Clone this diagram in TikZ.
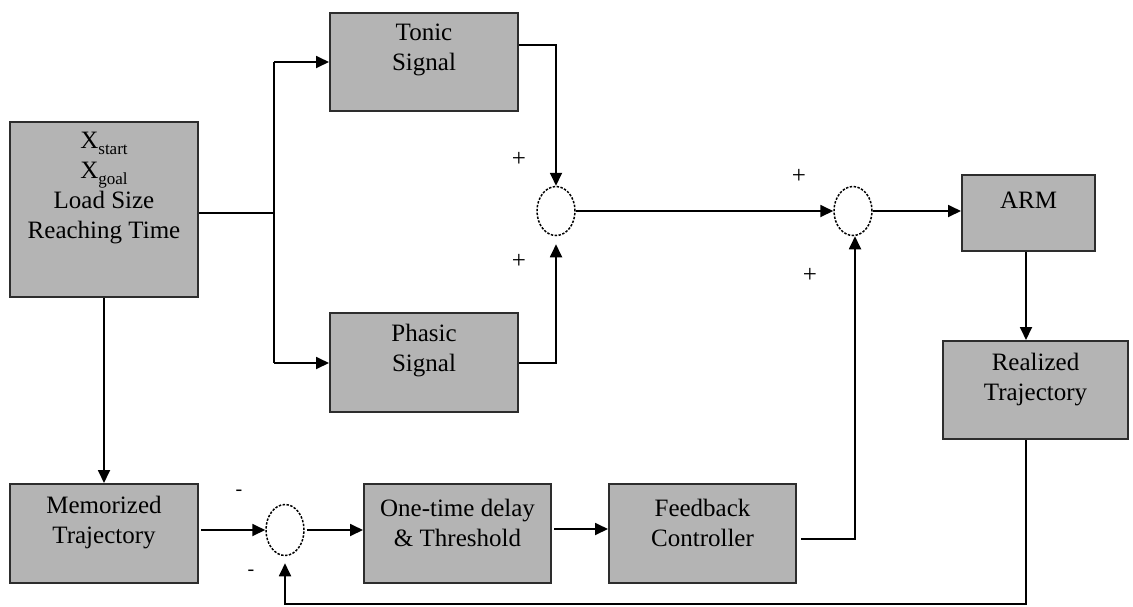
\documentclass[tikz,border=0pt]{standalone}
\usepackage{fontspec}
\setmainfont{Liberation Serif}
\usetikzlibrary{arrows.meta,shapes.geometric}
\definecolor{boxfill}{RGB}{180,180,180}
\definecolor{boxline}{RGB}{45,45,45}
\tikzset{
  blockbox/.style={draw=boxline, line width=2pt, fill=boxfill, inner sep=0pt},
  blocktext/.style={align=center, inner sep=0pt, font=\fontsize{25}{30}\selectfont},
  sumnode/.style={ellipse, draw=black, line width=1.5pt, dash pattern=on 2.4pt off 1.5pt,
                  fill=white, minimum width=38pt, minimum height=49pt, inner sep=0pt},
  wire/.style={draw=black, line width=1.8pt},
  flow/.style={wire, -{Triangle[length=13pt,width=12pt]}},
  signtext/.style={inner sep=0pt, font=\fontsize{25}{25}\selectfont},
}
\newcommand{\subtxt}[1]{\raisebox{-6pt}{\fontsize{17}{17}\selectfont #1}}
\begin{document}
\begin{tikzpicture}[x=1pt,y=-1pt]
  \useasboundingbox (0,0) rectangle (1133,606);

  % blocks
  \node[blockbox, minimum width=188pt, minimum height=175pt] (input) at (104,209.5) {};
  \node[blocktext] (inputtxt) at (104,188) {X\subtxt{start}\\X\subtxt{goal}\\Load Size\\Reaching Time};

  \node[blockbox, minimum width=188pt, minimum height=98pt] (tonic) at (424,62) {};
  \node[blocktext] (tonictxt) at (424,50) {Tonic\\Signal};

  \node[blockbox, minimum width=188pt, minimum height=99pt] (phasic) at (424,362.5) {};
  \node[blocktext] (phasictxt) at (424,351) {Phasic\\Signal};

  \node[blockbox, minimum width=133pt, minimum height=76pt] (arm) at (1028.5,213) {};
  \node[blocktext] (armtxt) at (1028.5,200) {ARM};

  \node[blockbox, minimum width=185pt, minimum height=98pt] (realized) at (1035.5,390) {};
  \node[blocktext] (realizedtxt) at (1035.5,380) {Realized\\Trajectory};

  \node[blockbox, minimum width=188pt, minimum height=99pt] (memorized) at (104,533.5) {};
  \node[blocktext] (memorizedtxt) at (104,523) {Memorized\\Trajectory};

  \node[blockbox, minimum width=187pt, minimum height=99pt] (onetime) at (457.5,533.5) {};
  \node[blocktext] (onetimetxt) at (457.5,522.5) {One-time delay\\\& Threshold};

  \node[blockbox, minimum width=187pt, minimum height=99pt] (feedback) at (702.5,533.5) {};
  \node[blocktext] (feedbacktxt) at (702.5,523) {Feedback\\Controller};

  % summing junctions
  \node[sumnode] (sum1) at (556,211) {};
  \node[sumnode] (sum2) at (853,211) {};
  \node[sumnode, minimum height=51pt] (sum3) at (285,530) {};

  % signs
  \node[signtext] (p1) at (519,159) {+};
  \node[signtext] (p2) at (519,261) {+};
  \node[signtext] (p3) at (799,176) {+};
  \node[signtext] (p4) at (810,275) {+};
  \node[signtext, font=\fontsize{20}{20}\selectfont] (m1) at (239,493) {-};
  \node[signtext, font=\fontsize{20}{20}\selectfont] (m2) at (251,573) {-};

  % routing points
  \coordinate (split) at (274,213);
  \coordinate (splittop) at (274,62);
  \coordinate (splitbot) at (274,363);
  \coordinate (tonicout) at (556,45);
  \coordinate (fbkbottom) at (1026,604);
  \coordinate (fbctrl) at (855,539);
  \coordinate (ctrlin) at (580,529);

  % upper feed-forward paths
  \draw[wire] (input.east |- split) -- (split);
  \draw[wire] (splittop) -- (splitbot);
  \draw[flow] (splittop) -- (tonic.west |- splittop);
  \draw[flow] (splitbot) -- (phasic.west |- splitbot);
  \draw[flow] (tonic.east |- tonicout) -- (tonicout) -- (sum1.north);
  \draw[flow, shorten >=8pt] (phasic.east |- splitbot) -| (sum1.south);
  \draw[flow] (sum1.east) -- (sum2.west);
  \draw[flow] (sum2.east) -- (sum2.east -| arm.west);
  \draw[flow] (arm.south -| fbkbottom) -- (realized.north -| fbkbottom);

  % lower feedback loop
  \draw[flow] (input.south) -- (memorized.north);
  \draw[flow] ([xshift=2pt]memorized.east |- sum3) -- (sum3.west);
  \draw[flow] ([xshift=2pt]sum3.east) -- (onetime.west |- sum3);
  \draw[flow] ([xshift=2pt]onetime.east |- ctrlin) -- (feedback.west |- ctrlin);
  \draw[flow] ([xshift=4pt]feedback.east |- fbctrl) -- (fbctrl) -- (fbctrl |- sum2.south);
  \draw[flow, shorten >=7pt] (realized.south -| fbkbottom) -- (fbkbottom) -| (sum3.south);
\end{tikzpicture}
\end{document}
